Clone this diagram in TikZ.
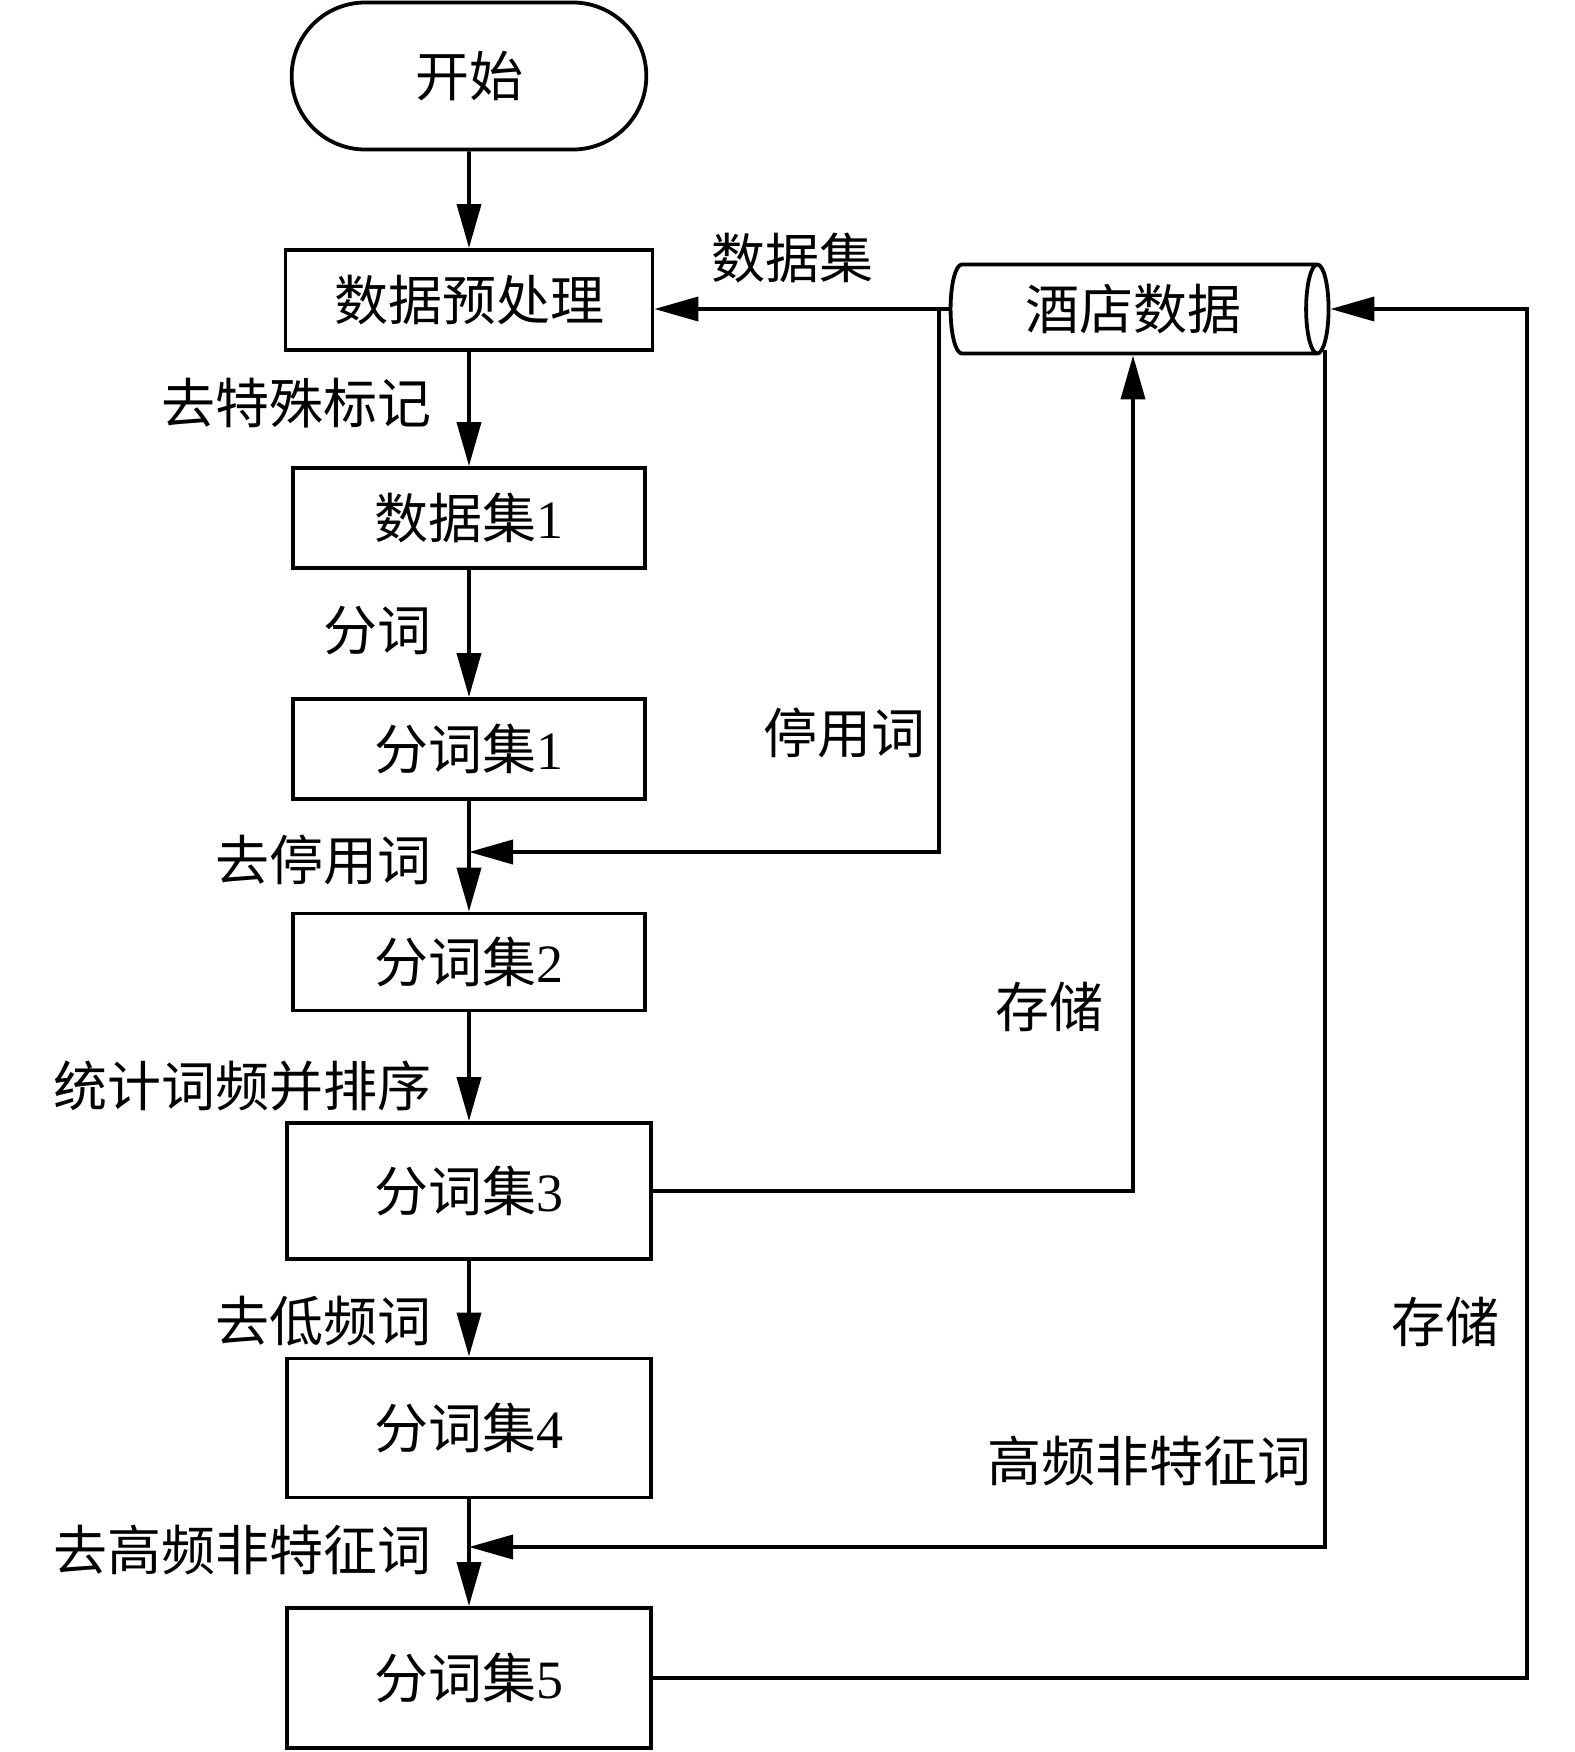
\documentclass[tikz,border=0pt]{standalone}
\usepackage{fontspec}
\setmainfont{Liberation Serif}
\newfontfamily\cjk{Noto Sans CJK SC}
\usetikzlibrary{arrows.meta,shapes.geometric,shapes.misc}

\newcommand{\dg}[1]{\textrm{#1}}

\tikzset{
  every node/.style={font=\cjk\fontsize{27}{32}\selectfont},
  box/.style={draw, line width=1.9pt, minimum width=176pt, minimum height=50pt, inner sep=0pt},
  bigbox/.style={box, minimum width=182pt, minimum height=68pt},
  startbox/.style={draw, rounded rectangle, line width=1.9pt, minimum width=184pt, minimum height=73.5pt},
  db/.style={draw, cylinder, line width=1.9pt, aspect=0.45, minimum height=189pt, minimum width=44.5pt, inner sep=0pt},
  arr/.style={line width=1.9pt, -{Triangle[length=22pt,width=12pt]}},
  lbl/.style={left=18pt, inner sep=0pt},
  sidelbl/.style={left=6pt, inner sep=0pt}
}

\begin{document}
\begin{tikzpicture}[x=0.5pt,y=-0.5pt]
    \useasboundingbox (0,0) rectangle (1575,1752);
    % main flow
    \node[startbox] (start) at (469,76) {开始};
    \node[box, minimum width=183.5pt] (pre) at (469,300) {数据预处理};
    \node[box] (ds1) at (469,518) {数据集\dg{1}};
    \node[box] (seg1) at (469,749) {分词集\dg{1}};
    \node[box, minimum height=48.5pt] (seg2) at (469,962) {分词集\dg{2}};
    \node[bigbox] (seg3) at (469,1191) {分词集\dg{3}};
    \node[bigbox, minimum height=69.5pt] (seg4) at (469,1428) {分词集\dg{4}};
    \node[bigbox, minimum height=70pt] (seg5) at (469,1678) {分词集\dg{5}};
    % database
    \node[db] (hotel) at (1133,309) {酒店数据};
    \coordinate (b1) at (939,309);
    \coordinate (j1) at (469,852);
    \coordinate (b2) at (1325,350);
    \coordinate (j2) at (469,1547);
    \coordinate (r5) at (1527,309);

    \draw[arr] (start) -- (pre);
    \draw[arr] (pre) -- node[lbl, pos=.45]{去特殊标记} (ds1);
    \draw[arr] (ds1) -- node[lbl, pos=.48]{分词} (seg1);
    \draw[arr] (seg1) -- node[lbl, pos=.53]{去停用词} (seg2);
    \draw[arr] (seg2) -- node[lbl, pos=.68]{统计词频并排序} (seg3);
    \draw[arr] (seg3) -- node[lbl, pos=.63]{去低频词} (seg4);
    \draw[arr] (seg4) -- node[lbl, pos=.47]{去高频非特征词} (seg5);

    \draw[arr] (hotel.west) -- node[above=12pt, inner sep=0pt, pos=.53]{数据集} (pre.east |- hotel.west);
    \draw[arr] (b1) |- node[sidelbl, pos=.39]{停用词} (j1);
    \draw[arr] (seg3.east) -| node[sidelbl, left=8pt, pos=.61]{存储} (hotel.south);
    \draw[arr] (b2) |- node[sidelbl, pos=.464]{高频非特征词} (j2);
    \draw[arr] (seg5.east) -| node[sidelbl, left=7pt, pos=.63]{存储} (r5) -- (hotel.east);
\end{tikzpicture}
\end{document}
